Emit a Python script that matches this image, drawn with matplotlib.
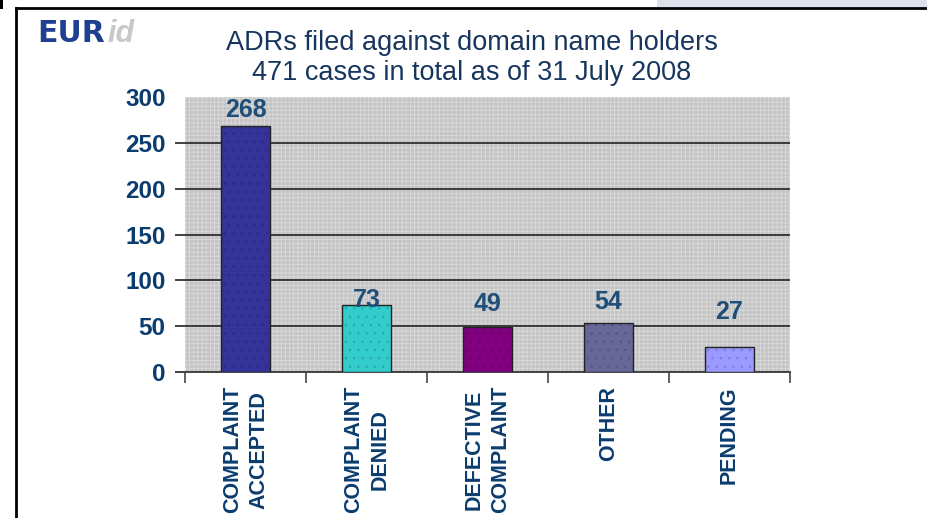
import numpy as np
import matplotlib.pyplot as plt
from matplotlib.patches import Rectangle
from matplotlib.lines import Line2D

plt.rcParams['font.family'] = ['Liberation Sans', 'DejaVu Sans']
plt.rcParams['hatch.linewidth'] = 0.6

categories = ['COMPLAINT\nACCEPTED', 'COMPLAINT\nDENIED', 'DEFECTIVE\nCOMPLAINT', 'OTHER', 'PENDING']
cases = [268, 73, 49, 54, 27]
bar_colors = ['#333399', '#33CCCC', '#800080', '#666699', '#9999FF']
label_offsets = [3, -5, 8, 6, 17]  # points above bar top, as in the original slide

navy = '#0B3C6E'

fig = plt.figure(figsize=(9.28, 5.18), dpi=100)

# slide frame
fig.patches.append(Rectangle((657/928, 1 - 7/518), 271/928, 7/518, transform=fig.transFigure,
                             facecolor='#DCE1EC', edgecolor='none'))
fig.lines.append(Line2D([16/928, 1], [1 - 8/518, 1 - 8/518], transform=fig.transFigure, color='black', lw=2))
fig.lines.append(Line2D([16/928, 16/928], [0, 1 - 8/518], transform=fig.transFigure, color='black', lw=2))
fig.patches.append(Rectangle((0, 1 - 9/518), 3/928, 9/518, transform=fig.transFigure,
                             facecolor='black', edgecolor='none'))

# logo
fig.text(37/928, 1 - 34/518, 'EUR', fontsize=21.5, fontweight='heavy', color='#1F3F8F', va='center',
         family='DejaVu Sans')
fig.text(107/928, 1 - 34/518, 'id', fontsize=22, fontstyle='italic', fontweight='bold',
         color='#C8C8C8', va='center')

fig.text(472/928, 1 - 43/518, 'ADRs filed against domain name holders', fontsize=19.5,
         color='#17365D', ha='center', va='center')
fig.text(472/928, 1 - 73/518, '471 cases in total as of 31 July 2008', fontsize=19.5,
         color='#17365D', ha='center', va='center')

ax = fig.add_axes([185/928, 1 - 372/518, 605/928, 275/518])
ax.set_facecolor('#C4C4C4')
ax.patch.set_edgecolor('#DADADA')
ax.patch.set_hatch('++++')
ax.patch.set_linewidth(0)

x = np.arange(len(categories))
bars = ax.bar(x, cases, width=0.41, color=bar_colors, edgecolor='#222222', linewidth=1, zorder=3)
ax.bar(x, cases, width=0.41, color='none', edgecolor=(0, 0, 0, 0.13), hatch='..', linewidth=0, zorder=3)

for b, v, off in zip(bars, cases, label_offsets):
    ax.annotate(str(v), (b.get_x() + b.get_width() / 2, v), xytext=(0, off), textcoords='offset points',
                ha='center', va='bottom', fontsize=18, fontweight='bold', color='#1F4E79')

ax.set_xlim(-0.5, len(categories) - 0.5)
ax.set_ylim(0, 300)
ax.set_yticks(np.arange(0, 301, 50))
ax.yaxis.grid(True, color='#222222', lw=1.2, zorder=1)
ax.set_axisbelow(True)
ax.tick_params(axis='y', length=7, width=1.2, color='#222222', labelsize=17.5, labelcolor=navy, pad=7)
for lab in ax.get_yticklabels():
    lab.set_fontweight('bold')
top_tick = ax.yaxis.get_major_ticks()[-1]
top_tick.gridline.set_visible(False)
top_tick.tick1line.set_visible(False)

ax.set_xticks(np.arange(len(categories) + 1) - 0.5)
ax.set_xticklabels([])
ax.tick_params(axis='x', length=8, width=1.2, color='#444444')
ax.set_xticks(x, minor=True)
ax.set_xticklabels(categories, minor=True, rotation=90, fontsize=15.5, fontweight='bold',
                   color=navy, ha='center', va='top', multialignment='center', linespacing=1.35)
ax.tick_params(axis='x', which='minor', length=0, pad=10)

for s in ['top', 'right', 'left']:
    ax.spines[s].set_visible(False)
ax.spines['bottom'].set_color('#444444')
ax.spines['bottom'].set_linewidth(1.4)
ax.spines['bottom'].set_bounds(-0.5 - 0.012, len(categories) - 0.5)

fig.savefig('out.png', dpi=100)
